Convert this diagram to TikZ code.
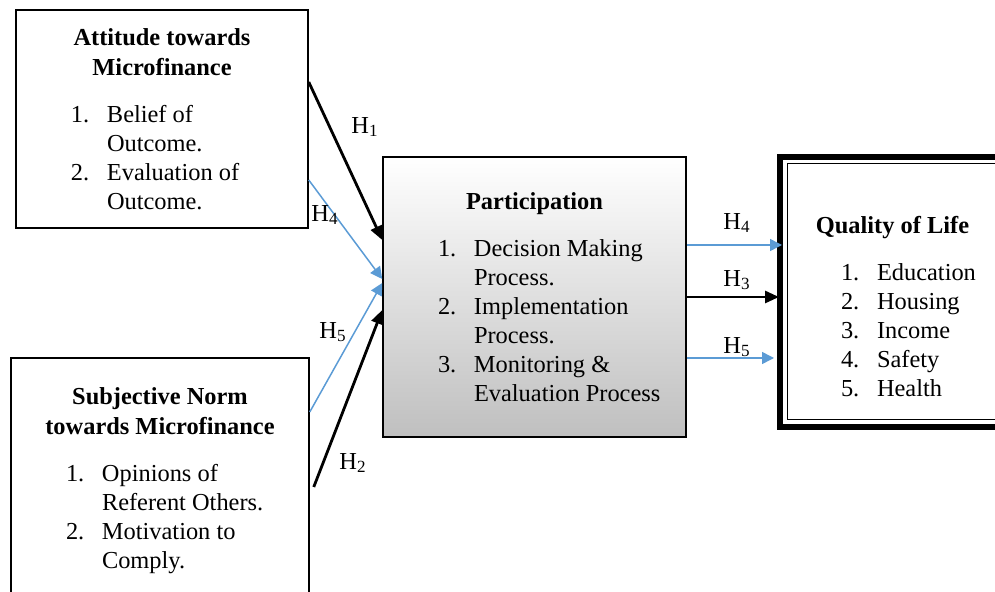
\documentclass[tikz,border=0pt]{standalone}
\usepackage{fontspec}
\setmainfont{Liberation Serif}
\usepackage{tikz}
\usetikzlibrary{arrows.meta, positioning}
\definecolor{wordblue}{HTML}{5B9BD5}
\newcommand{\boxhead}[1]{{\centering\bfseries\fontsize{12.2pt}{15pt}\selectfont #1\par}\vspace{9pt}}
\newcommand{\entry}[2]{\hangindent=18pt\hangafter=1\noindent\makebox[18pt][l]{#1}#2\par}
\newcommand{\hyp}[1]{H\textsubscript{#1}}
\tikzstyle{factor} = [draw, line width=0.75pt, rectangle, inner sep=0pt, font=\fontsize{12.2pt}{14.5pt}\selectfont]
\tikzstyle{process} = [factor, top color=white, bottom color=black!25]
\tikzstyle{outcome} = [factor, line width=3pt]
\tikzstyle{hlabel} = [inner sep=1pt, font=\fontsize{12.2pt}{14.5pt}\selectfont]
\tikzstyle{effect} = [-{Triangle[length=7pt,width=6pt]}, line width=1.4pt]
\tikzstyle{link} = [-{Triangle[length=6pt,width=6pt]}, line width=0.75pt, wordblue]

\begin{document}
\begin{tikzpicture}[x=0.5pt, y=-0.5pt]
	\useasboundingbox (0,0) rectangle (995,592);
	\node [factor, minimum width=146pt, minimum height=109pt] (att) at (162,119) {%
		\begin{minipage}{146pt}
			\boxhead{Attitude towards\\Microfinance}
			\raggedright\setlength{\leftskip}{27.5pt}
			\entry{1.}{Belief of\newline Outcome.}
			\entry{2.}{Evaluation of\newline Outcome.}
		\end{minipage}};
	\node [factor, minimum width=149pt, minimum height=123pt] (subj) at (160,481) {%
		\begin{minipage}{149pt}
			\boxhead{Subjective Norm\\towards Microfinance}
			\raggedright\setlength{\leftskip}{27.5pt}
			\entry{1.}{Opinions of\newline Referent Others.}
			\entry{2.}{Motivation to\newline Comply.}
		\end{minipage}};
	\node [process, minimum width=151.5pt, minimum height=140pt] (part) at (534.5,297) {%
		\begin{minipage}{151.5pt}
			\boxhead{Participation}
			\raggedright\setlength{\leftskip}{27.5pt}
			\entry{1.}{Decision Making\newline Process.}
			\entry{2.}{Implementation\newline Process.}
			\entry{3.}{Monitoring \&\newline Evaluation Process}
		\end{minipage}};
	\node [outcome, minimum width=112.5pt, minimum height=135pt] (qol) at (892.5,292) {%
		\begin{minipage}{112.5pt}
			\vspace*{15pt}
			\boxhead{Quality of Life}
			\raggedright\setlength{\leftskip}{30.5pt}
			\entry{1.}{Education}
			\entry{2.}{Housing}
			\entry{3.}{Income}
			\entry{4.}{Safety}
			\entry{5.}{Health}
		\end{minipage}};
	\draw [line width=0.5pt] ([xshift=5pt,yshift=-5pt]qol.north west) rectangle ([xshift=-5pt,yshift=5pt]qol.south east);

	% hypotheses
	\draw [effect] ([yshift=18.5pt]att.east) -- ([yshift=28.5pt]part.west);
	\draw [link] ([yshift=-30.5pt]att.east) -- ([yshift=9pt]part.west);
	\draw [link] ([yshift=34.5pt]subj.east) -- ([yshift=7pt]part.west);
	\draw [effect] ([xshift=2pt,yshift=-3pt]subj.east) -- ([yshift=-6.5pt]part.west);
	\draw [link] ([yshift=26pt]part.east) -- ([xshift=2.5pt,yshift=23.5pt]qol.west);
	\draw [effect] (part.east) -- ([xshift=1pt,yshift=-2.5pt]qol.west);
	\draw [link] ([yshift=-30.5pt]part.east) -- ([xshift=-1.5pt,yshift=-33pt]qol.west);

	\node [hlabel] (h1) at (365,127) {\hyp{1}};
	\node [hlabel] (h4a) at (325,215) {\hyp{4}};
	\node [hlabel] (h5a) at (333,332) {\hyp{5}};
	\node [hlabel] (h2) at (353,463) {\hyp{2}};
	\node [hlabel] (h4b) at (737,223) {\hyp{4}};
	\node [hlabel] (h3) at (737,280) {\hyp{3}};
	\node [hlabel] (h5b) at (737,347) {\hyp{5}};
\end{tikzpicture}
\end{document}
